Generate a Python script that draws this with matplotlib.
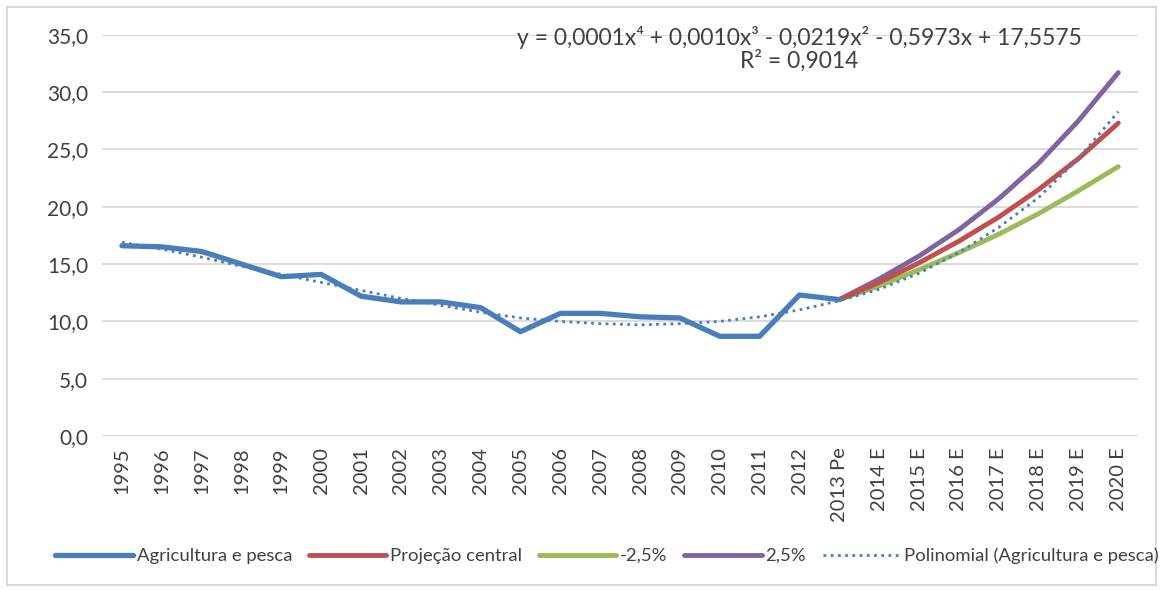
import matplotlib.pyplot as plt
from matplotlib.patches import Rectangle

plt.rcParams['font.family'] = ['Lato', 'DejaVu Sans']

categories = ['1995', '1996', '1997', '1998', '1999', '2000', '2001', '2002',
              '2003', '2004', '2005', '2006', '2007', '2008', '2009', '2010',
              '2011', '2012', '2013 Pe', '2014 E', '2015 E', '2016 E',
              '2017 E', '2018 E', '2019 E', '2020 E']

# observed series, 1995 .. 2013 Pe
agricultura = [16.6, 16.5, 16.1, 15.0, 13.9, 14.1, 12.2, 11.7, 11.7, 11.2,
               9.1, 10.7, 10.7, 10.4, 10.3, 8.7, 8.7, 12.3, 11.9]

# projections, 2013 Pe .. 2020 E
proj_central = [11.9, 13.4, 15.1, 17.0, 19.1, 21.5, 24.2, 27.3]
proj_menos = [11.9, 13.1, 14.5, 16.0, 17.6, 19.4, 21.4, 23.5]
proj_mais = [11.9, 13.7, 15.7, 18.0, 20.7, 23.8, 27.5, 31.7]

# polynomial trend line, 1995 .. 2020 E
polinomial = [16.9, 16.3, 15.6, 14.8, 14.1, 13.4, 12.7, 12.0, 11.4, 10.8,
              10.3, 10.0, 9.8, 9.7, 9.8, 10.0, 10.4, 11.0, 11.8, 12.8,
              14.2, 16.0, 18.2, 20.8, 24.2, 28.3]

blue = '#4A7EBB'
red = '#C0504D'
green = '#9BBB59'
purple = '#8064A2'
text_color = '#404040'

fig = plt.figure(figsize=(11.63, 5.90), dpi=100)
ax = fig.add_axes([0.0877, 0.261, 0.891, 0.680])

x_all = list(range(len(categories)))
x_obs = x_all[:len(agricultura)]
x_proj = x_all[len(agricultura) - 1:]

ax.plot(x_proj, proj_menos, color=green, lw=3.5, solid_capstyle='round', label='-2,5%', zorder=3)
ax.plot(x_proj, proj_mais, color=purple, lw=3.5, solid_capstyle='round', label='2,5%', zorder=3)
ax.plot(x_proj, proj_central, color=red, lw=3.5, solid_capstyle='round', label='Projeção central', zorder=4)
ax.plot(x_obs, agricultura, color=blue, lw=3.8, solid_capstyle='round', label='Agricultura e pesca', zorder=5)
ax.plot(x_all, polinomial, color=blue, lw=2, linestyle=(0, (1, 1.6)),
        label='Polinomial (Agricultura e pesca)', zorder=6)

ax.set_xlim(-0.5, len(categories) - 0.5)
ax.set_ylim(0, 35)
ax.set_yticks([0, 5, 10, 15, 20, 25, 30, 35])
ax.set_yticklabels(['0,0', '5,0', '10,0', '15,0', '20,0', '25,0', '30,0', '35,0'])
ax.set_xticks(x_all)
ax.set_xticklabels(categories, rotation=90)
ax.tick_params(axis='both', length=0, colors=text_color)
ax.tick_params(axis='x', pad=8, labelsize=14.5)
ax.tick_params(axis='y', pad=10, labelsize=15)
ax.grid(axis='y', color='#D9D9D9', lw=1.3)
ax.set_axisbelow(True)
for s in ax.spines.values():
    s.set_visible(False)

ax.text(17.0, 35.75, 'y = 0,0001x⁴ + 0,0010x³ - 0,0219x² - 0,5973x + 17,5575\nR² = 0,9014',
        ha='center', va='top', fontsize=16.5, color=text_color, linespacing=1.0,
        clip_on=False)

handles, labels = ax.get_legend_handles_labels()
order = ['Agricultura e pesca', 'Projeção central', '-2,5%', '2,5%',
         'Polinomial (Agricultura e pesca)']
hmap = dict(zip(labels, handles))
fig.legend([hmap[k] for k in order], order, loc='center', bbox_to_anchor=(0.522, 0.058),
           ncol=5, frameon=False, fontsize=13.3, handlelength=4.2, handletextpad=0.2,
           columnspacing=0.9, labelcolor=text_color)

fig.patches.append(Rectangle((0.006, 0.008), 0.988, 0.98, transform=fig.transFigure,
                             fill=False, edgecolor='#D9D9D9', lw=1.5))

fig.savefig('out.png', dpi=100, facecolor='white')
